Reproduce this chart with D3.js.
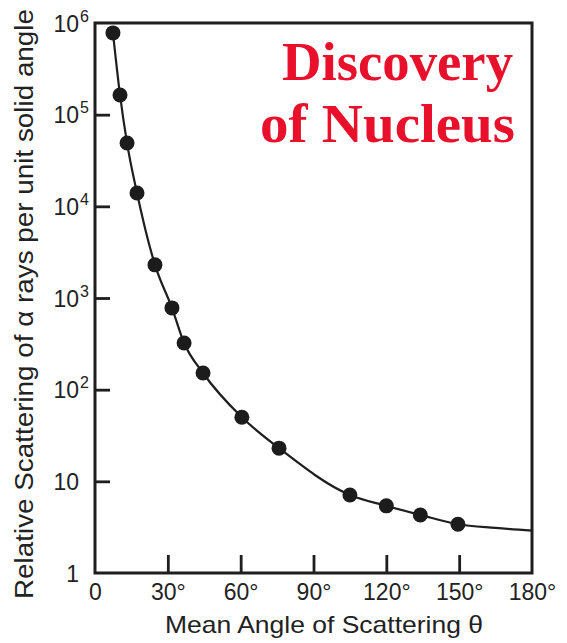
<!DOCTYPE html>
<html lang="en">
<head>
<meta charset="utf-8">
<title>Discovery of Nucleus</title>
<script src="https://cdn.jsdelivr.net/npm/d3@7"></script>
<style>
body { margin:0; background:#fff; }
.frame { fill:none; stroke:#1e1e1e; stroke-width:3px; }
.tick line { stroke:#1e1e1e; stroke-width:2.8px; }
.lbl { font-family:"Liberation Sans", Arial, sans-serif; fill:#222; }
.curve { fill:none; stroke:#1e1e1e; stroke-width:2.2px; }
.dot { fill:#1c1c1c; }
.title { font-family:"Liberation Serif", "Times New Roman", serif; font-weight:bold; fill:#e8102a; }
</style>
</head>
<body>
<div id="chart"></div>
<script>
// measured points (angle in degrees, relative scattering)
var angles = [7.4, 10.3, 13.2, 17.3, 24.7, 31.7, 36.7, 44.5, 60.5, 75.8, 105, 120, 134, 149.5];
var counts = [780000, 164000, 49000, 14000, 2300, 780, 323, 152, 50, 23, 7.1, 5.4, 4.3, 3.4];

// the drawn curve (passes the dots, then flattens to 180°)
var curveAngles = [7.4, 10.3, 13.2, 17.3, 24.7, 31.7, 36.7, 44.5, 60.5, 75.8, 105, 120, 134, 149.5, 165, 180];
var curveCounts = [780000, 164000, 49000, 14000, 2300, 780, 323, 152, 50, 23, 7.1, 5.4, 4.3, 3.4, 3.1, 2.9];

var xTicks = [0, 30, 60, 90, 120, 150, 180];
var yTicks = [1, 10, 100, 1000, 10000, 100000, 1000000];

var W = 567, H = 643;
var box = {left:95, right:532, top:23, bottom:573};

var svg = d3.select("#chart").append("svg")
	.attr("width", W).attr("height", H);
svg.append("rect").attr("width", W).attr("height", H).attr("fill", "#fff");

var x = d3.scaleLinear().domain([0, 180]).range([box.left, box.right]);
var y = d3.scaleLog().domain([1, 1e6]).range([box.bottom, box.top]);

// x axis : ticks point inward
var xg = svg.append("g")
	.attr("transform", "translate(0," + box.bottom + ")")
	.call(d3.axisBottom(x).tickValues(xTicks).tickSize(-18).tickFormat(""));
xg.select(".domain").remove();
xg.selectAll(".tick line").filter(function(d){ return d === 0 || d === 180; }).remove();
xg.selectAll(".tick").append("text")
	.attr("class", "lbl")
	.attr("y", 27)
	.attr("text-anchor", "middle")
	.style("font-size", "23px")
	.text(function(d){ return d === 0 ? "0" : d + "\u00b0"; });

// y axis
var yg = svg.append("g")
	.attr("transform", "translate(" + box.left + ",0)")
	.call(d3.axisLeft(y).tickValues(yTicks).tickSize(-15).tickFormat(""));
yg.select(".domain").remove();
yg.selectAll(".tick line").filter(function(d){ return d === 1 || d === 1e6; }).remove();
yg.selectAll(".tick").each(function(d){
	var g = d3.select(this);
	var p = Math.round(Math.log10(d));
	g.append("text").attr("class", "lbl")
		.attr("x", -16).attr("dy", "0.36em")
		.attr("text-anchor", "end")
		.style("font-size", "23px")
		.text(p === 0 ? "1" : "10");
	if (p > 1) {
		g.append("text").attr("class", "lbl")
			.attr("x", -15).attr("y", -2)
			.attr("text-anchor", "start")
			.style("font-size", "16px")
			.text(p);
	}
});

// frame
svg.append("rect").attr("class", "frame")
	.attr("x", box.left).attr("y", box.top)
	.attr("width", box.right - box.left).attr("height", box.bottom - box.top);

// curve + dots
var line = d3.line()
	.x(function(d){ return x(d[0]); })
	.y(function(d){ return y(d[1]); })
	.curve(d3.curveMonotoneX);
svg.append("path").attr("class", "curve")
	.attr("d", line(d3.zip(curveAngles, curveCounts)));

svg.append("g").selectAll("circle").data(d3.zip(angles, counts))
	.enter().append("circle")
		.attr("class", "dot")
		.attr("cx", function(d){ return x(d[0]); })
		.attr("cy", function(d){ return y(d[1]); })
		.attr("r", 7.5);

// axis titles
svg.append("text").attr("class", "lbl")
	.attr("x", 324).attr("y", 633)
	.attr("text-anchor", "middle")
	.attr("textLength", 318).attr("lengthAdjust", "spacingAndGlyphs")
	.style("font-size", "24px")
	.text("Mean Angle of Scattering \u03b8");

svg.append("text").attr("class", "lbl")
	.attr("transform", "translate(33,304) rotate(-90)")
	.attr("text-anchor", "middle")
	.attr("textLength", 590).attr("lengthAdjust", "spacingAndGlyphs")
	.style("font-size", "26px")
	.text("Relative Scattering of \u03b1 rays per unit solid angle");

// red title
svg.append("text").attr("class", "title")
	.attr("x", 513).attr("y", 80)
	.attr("text-anchor", "end")
	.attr("textLength", 231).attr("lengthAdjust", "spacingAndGlyphs")
	.style("font-size", "54px")
	.text("Discovery");
svg.append("text").attr("class", "title")
	.attr("x", 515).attr("y", 142)
	.attr("text-anchor", "end")
	.attr("textLength", 255).attr("lengthAdjust", "spacingAndGlyphs")
	.style("font-size", "54px")
	.text("of Nucleus");
</script>
</body>
</html>
